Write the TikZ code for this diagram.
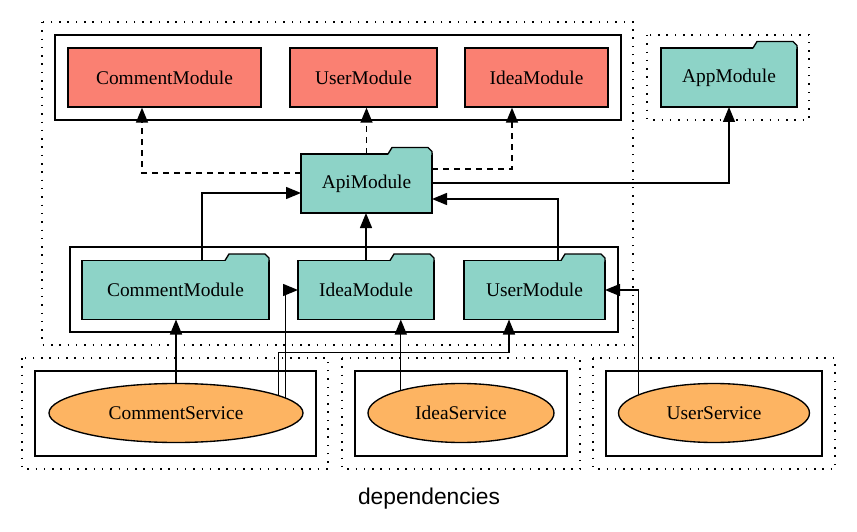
\documentclass[tikz,border=0pt]{standalone}
\usepackage{fontspec}
\setmainfont{Liberation Serif}
\newfontfamily\labelfont{Liberation Sans}
\usetikzlibrary{arrows.meta,calc,shapes.geometric}
\definecolor{impred}{HTML}{FA8072}
\definecolor{modteal}{HTML}{8DD3C7}
\definecolor{svcorange}{HTML}{FDB462}
\newcommand{\foldtab}[1]{%
  \fill[modteal] ($(#1.north east)+(-44,1)$) -- ++(4,-7.5) -- ($(#1.north east)+(-4,-6.5)$) -- ($(#1.north east)+(0,-2.5)$) -- ($(#1.north east)+(0,1)$) -- cycle;
  \draw ($(#1.north east)+(-44,0)$) -- ++(4,-6.5) -- ($(#1.north east)+(-4,-6.5)$) -- ($(#1.north east)+(0,-2.5)$) -- ($(#1.north east)+(0,1.5)$);}

\begin{document}
\begin{tikzpicture}[x=1pt,y=-1pt,line width=1.35pt,
  every node/.style={font=\fontsize{19.4}{23}\selectfont},
  impbox/.style={draw,fill=impred,minimum height=59pt,inner sep=0pt},
  modbox/.style={draw,fill=modteal,minimum height=59pt,inner sep=0pt,outer sep=0pt},
  svcbox/.style={draw,ellipse,fill=svcorange,minimum height=59pt,inner sep=0pt},
  cluster/.style={dash pattern=on 1.5pt off 6.8pt},
  dep/.style={-{Triangle[length=15pt,width=12pt]}},
  importline/.style={dep,dash pattern=on 6pt off 5pt}]
\useasboundingbox (0,0) rectangle (857,532);

\draw[cluster] (42,22) rectangle (633,345);
\draw[cluster] (647,35) rectangle (809,120);
\draw (55,35) rectangle (621,120);
\draw (70,247) rectangle (618,332);
\draw[cluster] (22,358) rectangle (328,469);
\draw[cluster] (342,358) rectangle (580,469);
\draw[cluster] (593,358) rectangle (835,469);
\draw (35,371) rectangle (316,456);
\draw (355,371) rectangle (567,456);
\draw (606,371) rectangle (822,456);

\node[impbox,minimum width=193pt] (cmimp) at (164.5,77.5) {CommentModule};
\node[impbox,minimum width=147pt] (umimp) at (363.5,77.5) {UserModule};
\node[impbox,minimum width=143pt] (imimp) at (536.5,77.5) {IdeaModule};
\node[modbox,minimum width=136pt] (app) at (729,77.5) {AppModule};
\node[modbox,minimum width=131pt] (api) at (366.5,183.5) {ApiModule};
\node[modbox,minimum width=187pt] (cm) at (175.5,290) {CommentModule};
\node[modbox,minimum width=136pt] (im) at (366,290) {IdeaModule};
\node[modbox,minimum width=141pt] (um) at (534.5,290) {UserModule};
\node[svcbox,minimum width=254pt] (cs) at (176,413) {CommentService};
\node[svcbox,minimum width=186pt] (is) at (461,413) {IdeaService};
\node[svcbox,minimum width=191pt] (us) at (714,413) {UserService};
\node[font=\labelfont\fontsize{22.8}{27}\selectfont] (title) at (429,499) {dependencies};

\foreach \n in {app,api,cm,im,um} {\foldtab{\n}}

\draw[importline] ([yshift=10.5pt]api.west) -| ([xshift=-22.5pt]cmimp.south);
\draw[importline] (api.north) -- (api.north |- umimp.south);
\draw[importline] ([yshift=14.5pt]api.east) -| ([xshift=-24.5pt]imimp.south);
\draw[dep] ([yshift=0.5pt]api.east) -| (app.south);
\draw[dep] ([xshift=26.5pt]cm.north) |- ([yshift=-9.5pt]api.west);
\draw[dep] (im.north) -- (im.north |- api.south);
\draw[dep] ([xshift=23.5pt]um.north) |- ([yshift=-15.5pt]api.east);
\draw[dep] (cs.north) -- (cs.north |- cm.south);
\draw[dep] (cs.8) |- (im.west);
\draw[dep] (cs.10) |- ([xshift=-25.5pt,yshift=-33pt]um.south) -- ([xshift=-25.5pt]um.south);
\draw[dep] (is.159) -- (is.159 |- im.south);
\draw[dep] (us.166) |- (um.east);
\end{tikzpicture}
\end{document}
